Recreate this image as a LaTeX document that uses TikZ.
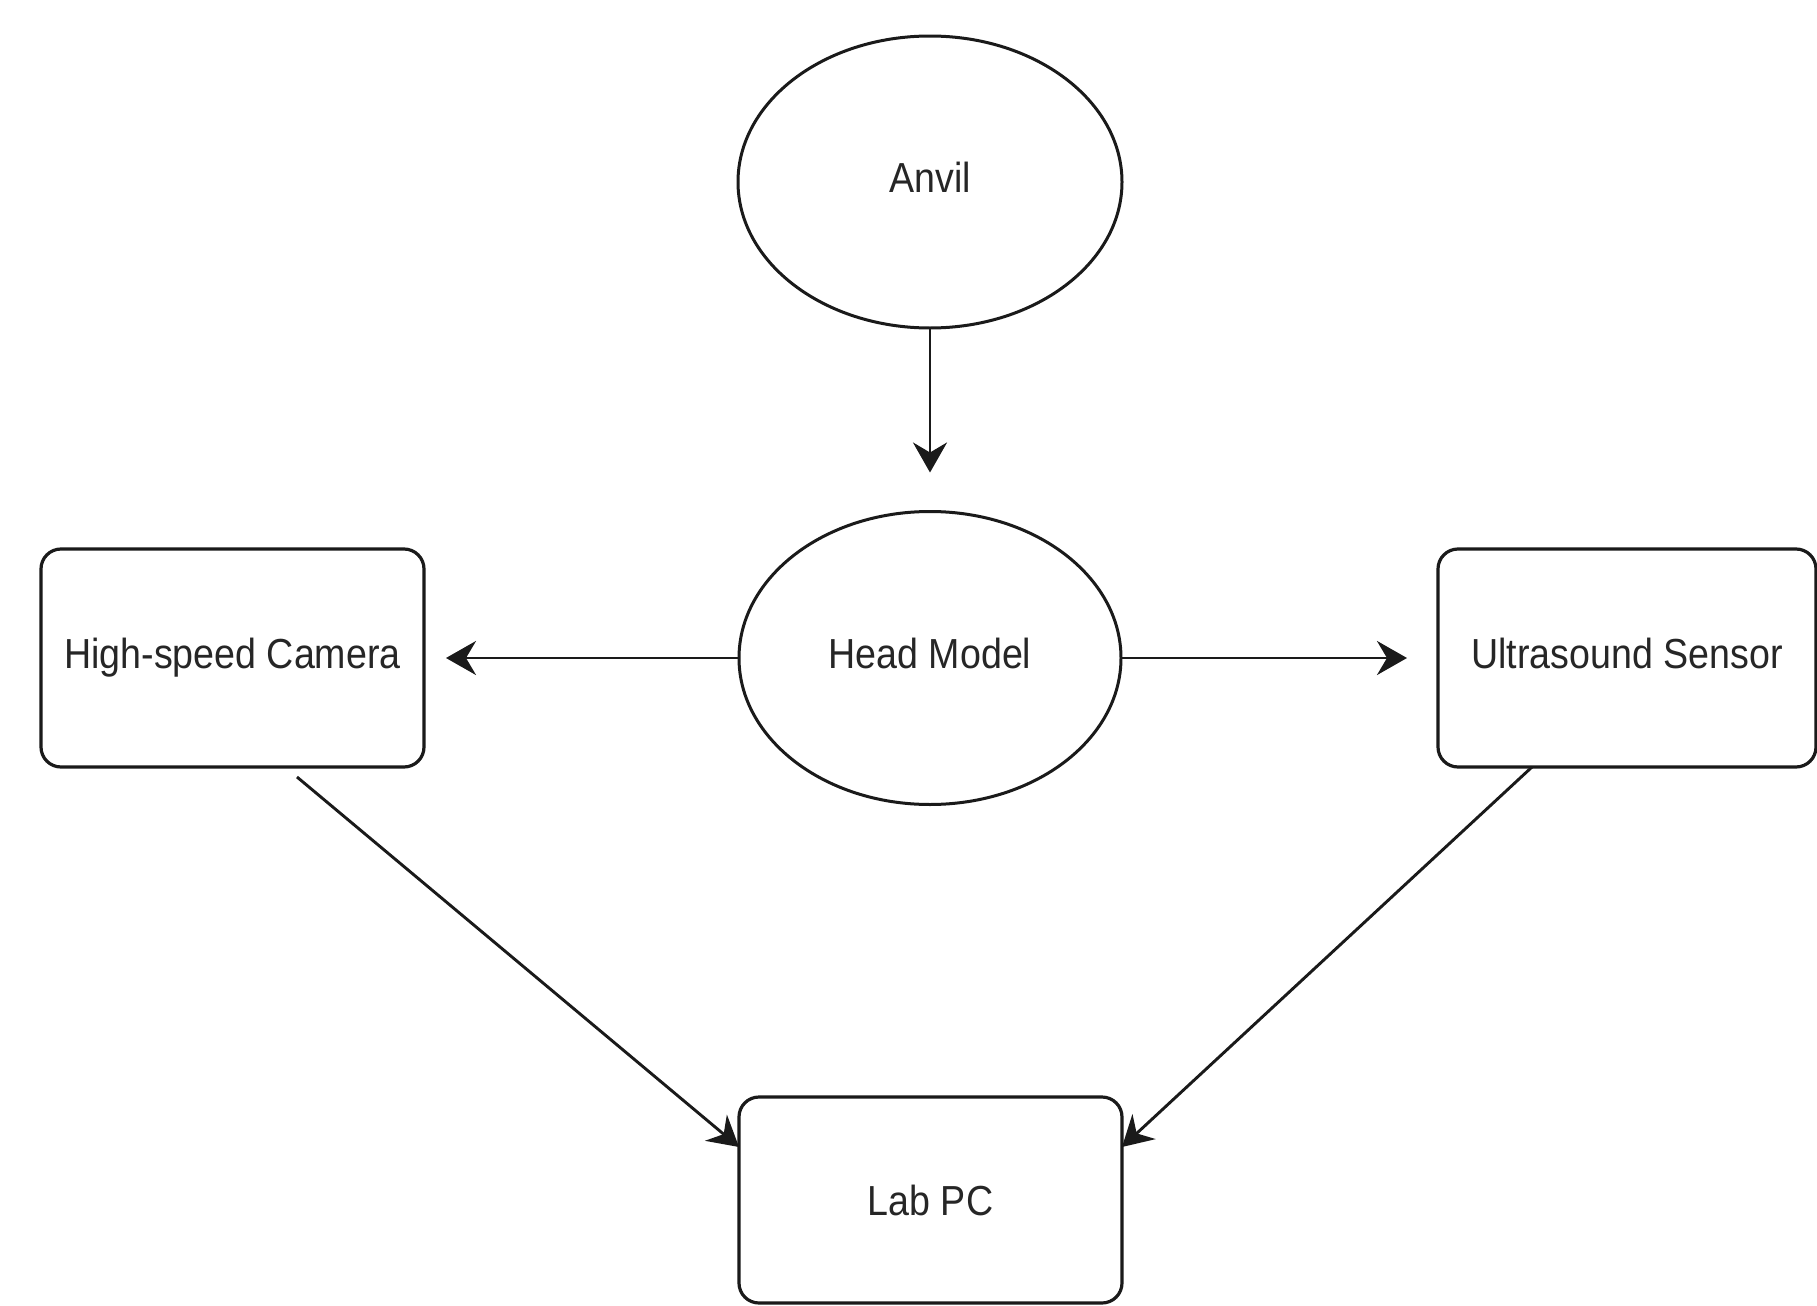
\documentclass[tikz,border=0pt]{standalone}
\usepackage{fontspec}
\setmainfont{Liberation Sans}
\usetikzlibrary{shapes.geometric,arrows.meta}
\definecolor{ink}{HTML}{1A1A1A}
\definecolor{txt}{HTML}{262626}
% labels are set a little condensed
\newcommand\cndtext[1]{\scalebox{0.895}[1]{#1}}
\tikzset{
  lbl/.style={font=\fontsize{21}{25}\selectfont, text=txt, text height=16pt, text depth=6pt},
  oval/.style={ellipse, draw=ink, line width=1.5pt, inner sep=0pt, outer sep=0pt, fill=white, lbl},
  card/.style={rectangle, rounded corners=10pt, draw=ink, line width=1.6pt, inner sep=0pt, outer sep=0pt, fill=white, lbl},
  arr/.style={draw=ink, line width=1.45pt, -{Stealth[length=15pt, width=17pt, inset=5pt]}}
}
\begin{document}
\begin{tikzpicture}[x=0.5pt, y=-0.5pt]
  \useasboundingbox[fill=white] (0,0) rectangle (1817,1306);

  % nodes
  \node[oval, minimum width=192pt, minimum height=146pt] (anvil) at (930,182) {\cndtext{Anvil}};
  \node[oval, minimum width=191pt, minimum height=146.5pt] (head) at (930,658) {\cndtext{Head Model}};
  \node[card, minimum width=191.5pt, minimum height=109pt] (cam) at (232.5,658) {\cndtext{High-speed Camera}};
  \node[card, minimum width=189pt, minimum height=109pt] (us) at (1627,658) {\cndtext{Ultrasound Sensor}};
  \node[card, minimum width=191.5pt, minimum height=103pt, text height=21pt] (lab) at (930.5,1200) {\cndtext{Lab PC}};

  % connectors
  \draw[arr, shorten >=19.5pt] (anvil.south) -- (head.north);
  \draw[arr, shorten >=11pt] (head.west) -- (cam.east);
  \draw[arr, shorten >=15.5pt] (head.east) -- (us.west);
  \draw[arr] ([xshift=128pt, yshift=-5pt]cam.south west) -- ([yshift=-25pt]lab.north west);
  \draw[arr] ([xshift=47pt]us.south west) -- ([yshift=-25pt]lab.north east);
\end{tikzpicture}
\end{document}
